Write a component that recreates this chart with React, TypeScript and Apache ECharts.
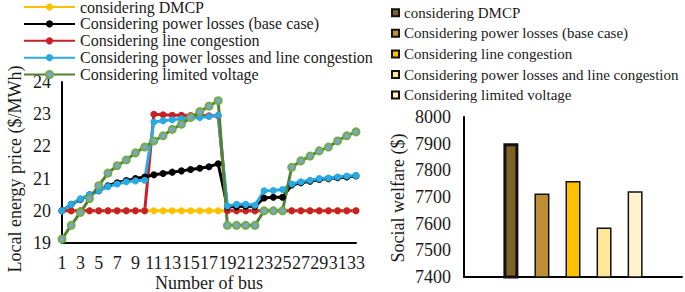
import React, { useEffect, useRef } from "react";
import * as echarts from "echarts";

const buses = ["1","2","3","4","5","6","7","8","9","10","11","12","13","14","15","16","17","18","19","20","21","22","23","24","25","26","27","28","29","30","31","32","33"];

const lineNames = [
  "considering DMCP",
  "Considering power losses (base case)",
  "Considering line congestion",
  "Considering power losses and line congestion",
  "Considering limited voltage",
];

const dmcp = [20,20,20,20,20,20,20,20,20,20,20,20,20,20,20,20,20,20,20,20,20,20,20,20,20,20,20,20,20,20,20,20,20];
const baseCase = [20.0,20.2,20.35,20.5,20.62,20.78,20.87,20.94,21.0,21.05,21.12,21.16,21.2,21.24,21.28,21.32,21.37,21.46,20.12,20.13,20.14,20.14,20.4,20.42,20.42,20.8,20.87,20.92,20.97,21.0,21.03,21.05,21.08];
const lineCongestion = [20,20,20,20,20,20,20,20,20,20,23.0,22.98,22.97,22.97,22.96,22.96,22.95,22.95,20,20,20,20,20,20,20,20,20,20,20,20,20,20,20];
const lossesCongestion = [20.0,20.2,20.37,20.5,20.62,20.75,20.83,20.9,20.93,20.95,22.76,22.8,22.83,22.86,22.88,22.9,22.93,22.97,20.15,20.2,20.2,20.17,20.62,20.63,20.66,20.83,20.9,20.95,21.0,21.02,21.05,21.08,21.1];
const limitedVoltage = [19.12,19.55,19.95,20.38,20.78,21.17,21.4,21.58,21.8,21.98,22.17,22.33,22.53,22.69,22.9,23.08,23.25,23.42,19.55,19.55,19.55,19.55,20.0,20.0,20.0,21.35,21.55,21.7,21.86,21.98,22.17,22.33,22.45];

const welfareNames = lineNames;
const welfareValues = [7902, 7713, 7760, 7586, 7722];

const priceTicks = { min: 19, max: 24, interval: 1 };
const welfareTicks = { min: 7400, max: 8000, interval: 100 };

const FONT = "'Liberation Serif', 'Times New Roman', serif";
const TXT = "#1a1a1a";
const BAR_PREFIX = "bar:";

export default function App() {
  const ref = useRef<HTMLDivElement>(null);
  useEffect(() => {
    if (!ref.current) return;
    const chart = echarts.init(ref.current, undefined, { renderer: "svg" });

    const lineColors = ["#FFC000", "#000000", "#C8202A", "#2AAAE2", "#548235"];
    const lineData = [dmcp, baseCase, lineCongestion, lossesCongestion, limitedVoltage];
    // draw order: yellow, red, black, blue, green
    const drawOrder = [0, 2, 1, 3, 4];
    const lineSeries = drawOrder.map((i) => ({
      name: lineNames[i],
      type: "line",
      xAxisIndex: 0,
      yAxisIndex: 0,
      data: lineData[i],
      symbol: "circle",
      showAllSymbol: true,
      symbolSize: i === 4 ? 7 : 7,
      lineStyle: { color: lineColors[i], width: 3 },
      itemStyle:
        i === 4
          ? { color: "#7EA3D3", borderColor: "#70AD47", borderWidth: 2 }
          : { color: lineColors[i] },
      emphasis: { disabled: true },
    }));

    const barColors = ["#7F6126", "#BF9033", "#FFC000", "#FFE699", "#FFF2CC"];
    const barSeries = welfareNames.map((n, i) => ({
      name: BAR_PREFIX + n,
      type: "bar",
      xAxisIndex: 1,
      yAxisIndex: 1,
      data: [welfareValues[i]],
      barWidth: 15,
      barGap: "107%",
      itemStyle: {
        color: barColors[i],
        borderColor: "#111",
        borderWidth: i === 0 ? 3 : 1.5,
      },
      emphasis: { disabled: true },
    }));

    const axisLine = { show: true, lineStyle: { color: "#000", width: 2 } };
    const labelStyle = { fontSize: 18, fontFamily: FONT, color: TXT };

    chart.setOption({
      animation: false,
      grid: [
        { left: 62, top: 82, width: 294, height: 161 },
        { left: 464, top: 117, width: 218, height: 160 },
      ],
      xAxis: [
        {
          gridIndex: 0,
          type: "category",
          data: buses,
          boundaryGap: false,
          axisLine,
          axisTick: { show: false },
          axisLabel: { ...labelStyle, interval: 1, margin: 11 },
          splitLine: { show: false },
        },
        {
          gridIndex: 1,
          type: "category",
          data: [""],
          axisLine,
          axisTick: { show: false },
          axisLabel: { show: false },
          splitLine: { show: false },
        },
      ],
      yAxis: [
        {
          gridIndex: 0,
          type: "value",
          ...priceTicks,
          axisLine,
          axisTick: { show: false },
          axisLabel: { ...labelStyle, margin: 11 },
          splitLine: { show: false },
        },
        {
          gridIndex: 1,
          type: "value",
          ...welfareTicks,
          axisLine,
          axisTick: { show: false },
          axisLabel: { ...labelStyle, margin: 13, formatter: (v: number) => String(v) },
          splitLine: { show: false },
        },
      ],
      legend: [
        {
          orient: "vertical",
          left: 23,
          top: -1,
          padding: 0,
          itemWidth: 51,
          itemHeight: 9,
          itemGap: 0.9,
          selectedMode: false,
          data: lineNames,
          textStyle: { fontSize: 16, fontFamily: FONT, color: TXT, lineHeight: 16 },
        },
        {
          orient: "vertical",
          left: 391,
          top: 4.7,
          padding: 0,
          itemWidth: 7,
          itemHeight: 7,
          itemGap: 4.6,
          icon: "rect",
          selectedMode: false,
          data: welfareNames.map((n) => BAR_PREFIX + n),
          formatter: (name: string) => name.slice(BAR_PREFIX.length),
          textStyle: { fontSize: 15, fontFamily: FONT, color: TXT, lineHeight: 16 },
        },
      ],
      graphic: [
        {
          type: "text",
          x: 15,
          y: 169,
          rotation: Math.PI / 2,
          style: { text: "Local energy price ($/MWh)", fontSize: 18, fontFamily: FONT, fill: TXT, align: "center", verticalAlign: "middle" },
        },
        {
          type: "text",
          x: 209,
          y: 283,
          style: { text: "Number of bus", fontSize: 18, fontFamily: FONT, fill: TXT, align: "center", verticalAlign: "middle" },
        },
        {
          type: "text",
          x: 398,
          y: 198,
          rotation: Math.PI / 2,
          style: { text: "Social welfare ($)", fontSize: 18, fontFamily: FONT, fill: TXT, align: "center", verticalAlign: "middle" },
        },
      ],
      series: [...lineSeries, ...barSeries],
    });

    return () => chart.dispose();
  }, []);

  return (
    <div
      ref={ref}
      style={{ position: "fixed", left: 0, top: 0, width: 685, height: 292, background: "#fff" }}
    />
  );
}
